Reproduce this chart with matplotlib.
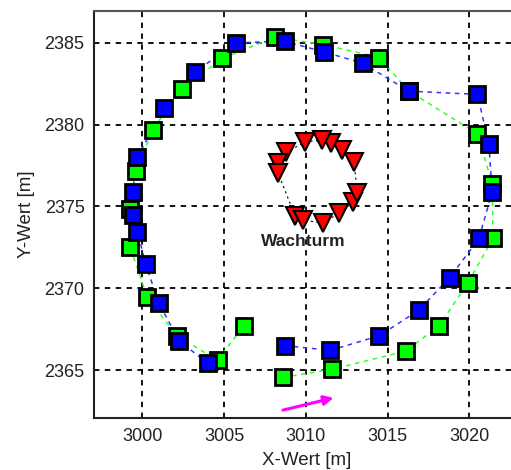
import matplotlib
matplotlib.use("Agg")
import matplotlib.pyplot as plt

# Trajektorie 1 (blau), gegen den Uhrzeigersinn ab unten
blue_x = [3008.7, 3011.5, 3014.5, 3016.9, 3018.8, 3020.6, 3021.4, 3021.2,
          3020.5, 3016.3, 3013.5, 3011.1, 3008.7, 3005.7, 3003.2, 3001.3,
          2999.7, 2999.4, 2999.4, 2999.7, 3000.2, 3001.0, 3002.25, 3004.0]
blue_y = [2366.5, 2366.2, 2367.1, 2368.65, 2370.65, 2373.05, 2375.9, 2378.8,
          2381.85, 2382.05, 2383.75, 2384.45, 2385.1, 2385.0, 2383.2, 2381.0,
          2378.0, 2375.9, 2374.5, 2373.45, 2371.5, 2369.1, 2366.8, 2365.4]

# Trajektorie 2 (gruen)
green_x = [3008.6, 3011.6, 3016.1, 3018.15, 3019.9, 3021.45, 3021.4, 3020.5,
           3016.3, 3014.5, 3011.05, 3008.1, 3004.9, 3002.4, 3000.65, 2999.6,
           2999.25, 2999.25, 3000.3, 3002.1, 3004.6, 3006.2]
green_y = [2364.55, 2365.05, 2366.15, 2367.7, 2370.3, 2373.05, 2376.4, 2379.45,
           2382.05, 2384.1, 2384.9, 2385.35, 2384.05, 2382.2, 2379.7, 2377.15,
           2374.85, 2372.55, 2369.45, 2367.1, 2365.6, 2367.7]

# Wachturm-Messpunkte
tower_x = [3009.35, 3009.85, 3011.05, 3012.05, 3012.9, 3013.15, 3012.95,
           3012.2, 3011.55, 3011.0, 3009.95, 3008.8, 3008.3, 3008.3]
tower_y = [2374.4, 2374.15, 2374.0, 2374.6, 2375.25, 2375.85, 2377.7,
           2378.45, 2378.85, 2379.05, 2378.95, 2378.3, 2377.65, 2377.05]

tower_label = "Wachturm"
label_pos = (3009.85, 2372.85)

arrow_start = (3008.6, 2362.55)
arrow_end = (3011.7, 2363.3)

x_ticks = [3000, 3005, 3010, 3015, 3020]
y_ticks = [2365, 2370, 2375, 2380, 2385]

plt.rcParams["font.family"] = ["Liberation Sans", "DejaVu Sans"]

fig = plt.figure(figsize=(5.11, 4.70), dpi=100)
ax = fig.add_axes([0.1845, 0.110, 0.833, 0.867])

ax.set_xlim(2997.06, 3023.1)
ax.set_ylim(2362.05, 2386.96)

ax.grid(True, color="black", linestyle=(0, (3, 3)), linewidth=1.3)
ax.set_axisbelow(True)

# Wachturm
ax.plot(tower_x + tower_x[:1], tower_y + tower_y[:1], color="black",
        linestyle=(0, (2, 3)), linewidth=0.8, zorder=2)
ax.plot(tower_x, tower_y, linestyle="none", marker="v", markersize=13,
        markerfacecolor="#ff0000", markeredgecolor="black",
        markeredgewidth=1.5, zorder=3)
ax.text(label_pos[0], label_pos[1], tower_label, ha="center", va="center",
        fontsize=12.5, fontweight="bold", color="#222222", zorder=4)

# Trajektorien
ax.plot(green_x, green_y, color="#33ff33", linestyle=(0, (3, 3)),
        linewidth=1.1, zorder=2)
ax.plot(blue_x, blue_y, color="#3333ff", linestyle=(0, (3, 3)),
        linewidth=1.1, zorder=2)
ax.plot(green_x, green_y, linestyle="none", marker="s", markersize=11,
        markerfacecolor="#00ff00", markeredgecolor="black",
        markeredgewidth=2, zorder=3)
ax.plot(blue_x, blue_y, linestyle="none", marker="s", markersize=11,
        markerfacecolor="#0000ff", markeredgecolor="black",
        markeredgewidth=2, zorder=3)

ax.annotate("", xy=arrow_end, xytext=arrow_start,
            arrowprops=dict(arrowstyle="-|>", color="#ff00ff", lw=2.2,
                            mutation_scale=14, shrinkA=0, shrinkB=0))

ax.set_xticks(x_ticks)
ax.set_yticks(y_ticks)
ax.tick_params(length=0, labelsize=13, colors="#222222", pad=7)
ax.set_xlabel("X-Wert [m]", fontsize=13.5, color="#222222", labelpad=5)
ax.set_ylabel("Y-Wert [m]", fontsize=13.5, color="#222222", labelpad=7)

for side in ["left", "bottom"]:
    ax.spines[side].set_color("#222222")
    ax.spines[side].set_linewidth(1.5)
ax.spines["top"].set_color("#555555")
ax.spines["top"].set_linewidth(1.5)
ax.spines["right"].set_visible(False)

fig.savefig("out.png", dpi=100)
